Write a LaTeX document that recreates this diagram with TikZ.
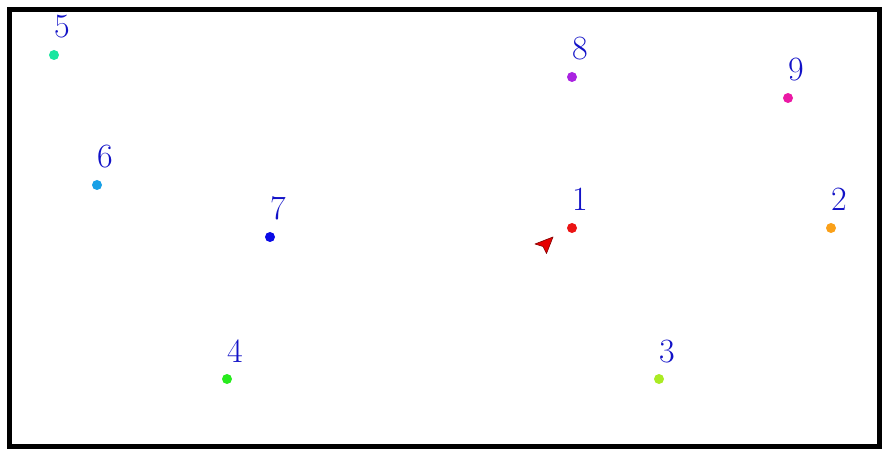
\documentclass[tikz,border=0pt]{standalone}
\definecolor{lblblue}{rgb}{0.07,0.07,0.78}
\definecolor{c1}{RGB}{235,20,20}
\definecolor{c2}{RGB}{250,160,25}
\definecolor{c3}{RGB}{170,235,35}
\definecolor{c4}{RGB}{40,235,30}
\definecolor{c5}{RGB}{25,230,160}
\definecolor{c6}{RGB}{25,160,230}
\definecolor{c7}{RGB}{10,10,230}
\definecolor{c8}{RGB}{170,35,225}
\definecolor{c9}{RGB}{235,25,165}
\begin{document}
\begin{tikzpicture}[x=1pt,y=-1pt,
  dotm/.style={circle,fill=#1,inner sep=0pt,minimum size=10pt},
  lbl/.style={anchor=base west,inner sep=0pt,text=lblblue,font=\fontsize{34}{36}\selectfont}]
\useasboundingbox (0,0) rectangle (886,454);
\draw[line width=5pt] (9.5,9.5) rectangle (879,446.5);
\foreach \i/\x/\y in {1/572/228,2/831/228,3/659/379,4/227/379,5/54/55,6/97/185,7/270/237,8/572/77,9/788/98}{
  \node[dotm=c\i] (p\i) at (\x,\y) {};
  \node[lbl] (l\i) at (\x,\y-17) {\i};
}
\filldraw[fill=red!90!black,draw=red!50!black,line width=0.6pt,line join=round]
  (553,237) -- (535,244) -- (543,246.5) -- (546.5,253.5) -- cycle;
\end{tikzpicture}
\end{document}
